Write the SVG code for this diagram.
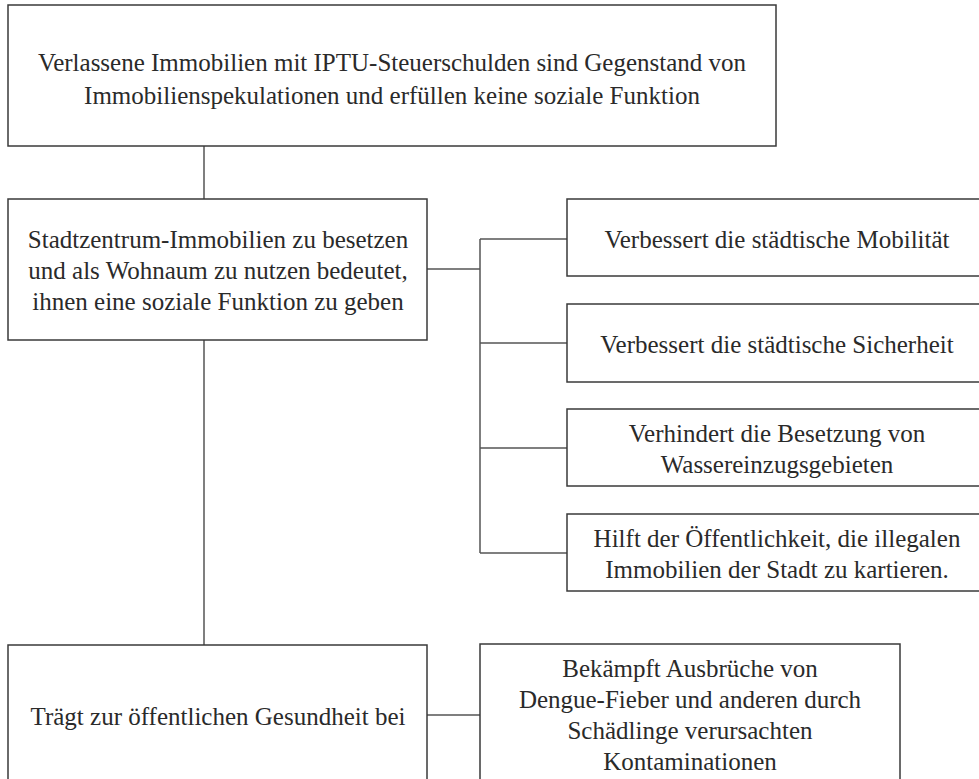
<svg xmlns="http://www.w3.org/2000/svg" width="979" height="779" viewBox="0 0 979 779">
<style>
.box{fill:#fff;stroke:#3a3a3a;stroke-width:1.5}
.lbl{font-family:"Liberation Serif",serif;font-size:25px;fill:#2a2a2a;text-anchor:middle}
.con{fill:none;stroke:#555;stroke-width:1.5}
</style>
<rect width="979" height="779" fill="#fff"/>
<g id="connectors">
<path class="con" d="M204,146V199"/>
<path class="con" d="M204,340V645"/>
<path class="con" d="M427,269H480"/>
<path class="con" d="M480,239V553"/>
<path class="con" d="M480,239H567M480,343H567M480,448H567M480,553H567"/>
<path class="con" d="M427,715H480"/>
</g>
<g id="n1"><rect class="box" x="8" y="5" width="768" height="141"/>
<text class="lbl" x="392" y="71">Verlassene Immobilien mit IPTU-Steuerschulden sind Gegenstand von</text>
<text class="lbl" x="392" y="104">Immobilienspekulationen und erfüllen keine soziale Funktion</text></g>
<g id="n2"><rect class="box" x="8" y="199" width="419" height="141"/>
<text class="lbl" x="218" y="248">Stadtzentrum-Immobilien zu besetzen</text>
<text class="lbl" x="218" y="279">und als Wohnaum zu nutzen bedeutet,</text>
<text class="lbl" x="218" y="310">ihnen eine soziale Funktion zu geben</text></g>
<g id="n3"><rect class="box" x="567" y="199" width="420" height="77"/>
<text class="lbl" x="777" y="248">Verbessert die städtische Mobilität</text></g>
<g id="n4"><rect class="box" x="567" y="304" width="420" height="78"/>
<text class="lbl" x="777" y="353">Verbessert die städtische Sicherheit</text></g>
<g id="n5"><rect class="box" x="567" y="409" width="420" height="77"/>
<text class="lbl" x="777" y="442">Verhindert die Besetzung von</text>
<text class="lbl" x="777" y="473">Wassereinzugsgebieten</text></g>
<g id="n6"><rect class="box" x="567" y="514" width="420" height="77"/>
<text class="lbl" x="777" y="547">Hilft der Öffentlichkeit, die illegalen</text>
<text class="lbl" x="777" y="578">Immobilien der Stadt zu kartieren.</text></g>
<g id="n7"><rect class="box" x="8" y="645" width="419" height="141"/>
<text class="lbl" x="218" y="725">Trägt zur öffentlichen Gesundheit bei</text></g>
<g id="n8"><rect class="box" x="480" y="644" width="420" height="141"/>
<text class="lbl" x="690" y="677">Bekämpft Ausbrüche von</text>
<text class="lbl" x="690" y="708">Dengue-Fieber und anderen durch</text>
<text class="lbl" x="690" y="739">Schädlinge verursachten</text>
<text class="lbl" x="690" y="770">Kontaminationen</text></g>
</svg>
